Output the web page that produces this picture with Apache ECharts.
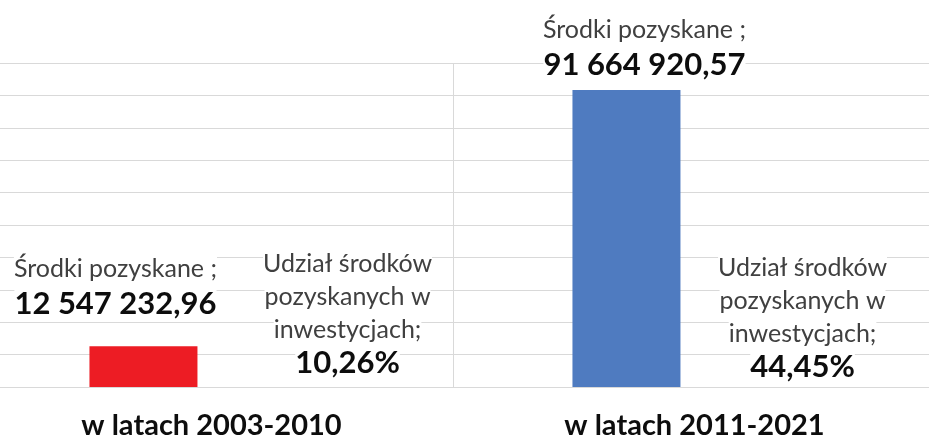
<!DOCTYPE html>
<html><head><meta charset="utf-8">
<script src="https://cdn.jsdelivr.net/npm/echarts@6/dist/echarts.min.js"></script>
<style>html,body{margin:0;padding:0;background:#fff;overflow:hidden;width:929px;height:442px;position:relative}
#c{position:absolute;left:-30px;top:0;width:966px;height:442px}</style>
</head><body><div id="c"></div>
<script>
const categories = ['w latach 2003-2010', 'w latach 2011-2021'];
const fundsName = 'Środki pozyskane';
const fundsValues = [12547232.96, 91664920.57];
const shareName = 'Udział środków pozyskanych w inwestycjach';
const shareValues = [0.1026, 0.4445];
const yTicks = { min: 0, max: 100000000, interval: 10000000 };

function fmtPL(v) {
  const parts = v.toFixed(2).split('.');
  return parts[0].replace(/\B(?=(\d{3})+(?!\d))/g, ' ') + ',' + parts[1];
}
function fmtPct(v) { return (v * 100).toFixed(2).replace('.', ',') + '%'; }

const FONT = 'Lato, "Liberation Sans", sans-serif';
const rich = {
  n: { fontFamily: FONT, fontSize: 25, color: '#404040', lineHeight: 35, backgroundColor: '#fff' },
  v: { fontFamily: FONT, fontSize: 31, fontWeight: 'bold', color: '#0d0d0d', lineHeight: 36, backgroundColor: '#fff' }
};
const fundOffsets = [[-28, -19], [18, -2]];
const shareOffsets = [[68, -3], [40, 1]];

const chart = echarts.init(document.getElementById('c'), null, { renderer: 'canvas' });
chart.setOption({
  animation: false,
  backgroundColor: '#fff',
  grid: { left: 0, right: 0, top: 63, height: 324, containLabel: false },
  xAxis: {
    type: 'category', data: categories,
    axisLine: { show: false }, axisTick: { show: false },
    splitLine: { show: true, interval: 0, lineStyle: { color: '#d9d9d9', width: 1 } },
    axisLabel: { fontFamily: FONT, fontSize: 29, fontWeight: 'bold', color: '#0d0d0d', margin: 24 }
  },
  yAxis: {
    type: 'value', min: yTicks.min, max: yTicks.max, interval: yTicks.interval,
    axisLabel: { show: false }, axisLine: { show: false }, axisTick: { show: false },
    splitLine: { lineStyle: { color: '#d9d9d9', width: 1 } }
  },
  series: [
    {
      name: fundsName, type: 'bar', barWidth: 108, barGap: '26%',
      data: fundsValues.map((v, i) => ({
        value: v,
        itemStyle: { color: i === 0 ? '#ed1c24' : '#4f7bc0' },
        label: { offset: fundOffsets[i] }
      })),
      label: {
        show: true, position: 'top', distance: 5, align: 'center',
        formatter: p => '{n|' + fundsName + ' ;}\n{v|' + fmtPL(p.value) + '}',
        rich: rich
      }
    },
    {
      name: shareName, type: 'bar', barWidth: 108,
      itemStyle: { color: 'rgba(0,0,0,0)' },
      data: shareValues.map((v, i) => ({ value: v, label: { offset: shareOffsets[i] } })),
      label: {
        show: true, position: 'top', distance: 5, align: 'center',
        formatter: p => '{n|Udział środków}\n{n|pozyskanych w}\n{n|inwestycjach;}\n{v|' + fmtPct(p.value) + '}',
        rich: {
          n: Object.assign({}, rich.n, { lineHeight: 33 }),
          v: Object.assign({}, rich.v, { lineHeight: 33 })
        }
      }
    }
  ]
});
</script></body></html>
